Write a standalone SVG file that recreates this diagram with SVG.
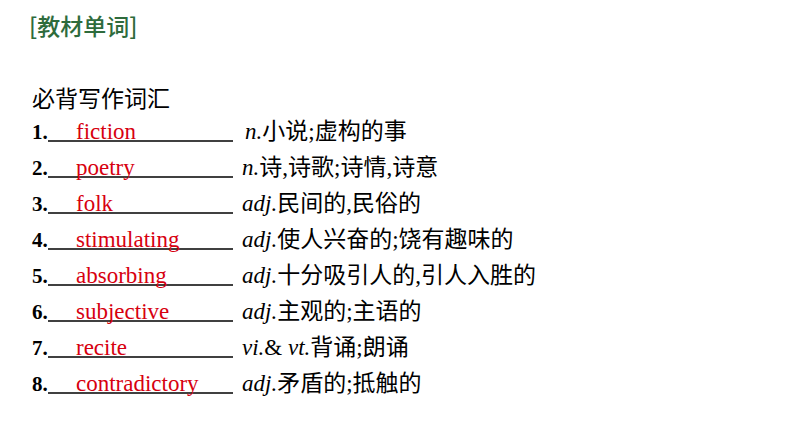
<svg xmlns="http://www.w3.org/2000/svg" width="794" height="447" viewBox="0 0 794 447">
<style>
.h{font-family:"Noto Sans CJK SC",sans-serif;font-size:23px}
.n{font-family:"Liberation Serif",serif;font-size:21px;font-weight:bold;fill:#000}
.w{font-family:"Liberation Serif",serif;font-size:23px;fill:#d7000f}
.d{font-family:"Liberation Serif","Noto Sans CJK SC",serif;font-size:23px;fill:#000}
.d tspan.i{font-style:italic}
.u{stroke:#000;stroke-width:1.3}
</style>
<rect width="794" height="447" fill="#fff"/>
<text x="29" y="35" class="h" font-size="26" font-weight="500" fill="#2e6b3c">[教材单词]</text>
<text x="32" y="107" class="h" fill="#000">必背写作词汇</text>
<g id="rows">
<g id="r1"><text x="32" y="139" class="n">1.</text><line x1="48" y1="141" x2="233" y2="141" class="u"/><text x="76" y="139" class="w">fiction</text><text x="245" y="139" class="d"><tspan class="i">n.</tspan>小说;虚构的事</text></g>
<g id="r2"><text x="32" y="175" class="n">2.</text><line x1="48" y1="177" x2="233" y2="177" class="u"/><text x="76" y="175" class="w">poetry</text><text x="242" y="175" class="d"><tspan class="i">n.</tspan>诗,诗歌;诗情,诗意</text></g>
<g id="r3"><text x="32" y="211" class="n">3.</text><line x1="48" y1="213" x2="233" y2="213" class="u"/><text x="76" y="211" class="w">folk</text><text x="242" y="211" class="d"><tspan class="i">adj.</tspan>民间的,民俗的</text></g>
<g id="r4"><text x="32" y="247" class="n">4.</text><line x1="48" y1="249" x2="233" y2="249" class="u"/><text x="76" y="247" class="w">stimulating</text><text x="242" y="247" class="d"><tspan class="i">adj.</tspan>使人兴奋的;饶有趣味的</text></g>
<g id="r5"><text x="32" y="283" class="n">5.</text><line x1="48" y1="285" x2="233" y2="285" class="u"/><text x="76" y="283" class="w">absorbing</text><text x="242" y="283" class="d"><tspan class="i">adj.</tspan>十分吸引人的,引人入胜的</text></g>
<g id="r6"><text x="32" y="319" class="n">6.</text><line x1="48" y1="321" x2="233" y2="321" class="u"/><text x="76" y="319" class="w">subjective</text><text x="242" y="319" class="d"><tspan class="i">adj.</tspan>主观的;主语的</text></g>
<g id="r7"><text x="32" y="355" class="n">7.</text><line x1="48" y1="357" x2="233" y2="357" class="u"/><text x="76" y="355" class="w">recite</text><text x="242" y="355" class="d"><tspan class="i">vi.</tspan>&amp; <tspan class="i">vt.</tspan>背诵;朗诵</text></g>
<g id="r8"><text x="32" y="391" class="n">8.</text><line x1="48" y1="393" x2="233" y2="393" class="u"/><text x="76" y="391" class="w">contradictory</text><text x="242" y="391" class="d"><tspan class="i">adj.</tspan>矛盾的;抵触的</text></g>
</g>
</svg>
